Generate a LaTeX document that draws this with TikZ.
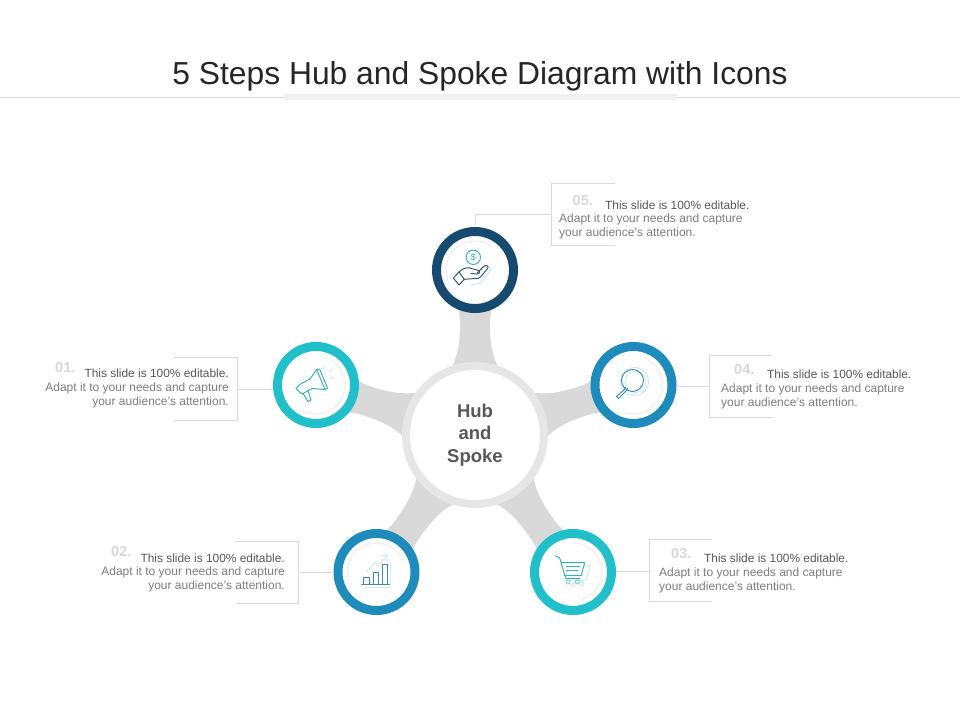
\documentclass[tikz,border=0pt]{standalone}
\usepackage{fontspec}
\setmainfont{Liberation Sans}
\usetikzlibrary{calc}
\definecolor{spokegray}{HTML}{D9D9D9}
\definecolor{hubring}{HTML}{E6E6E6}
\definecolor{boxline}{HTML}{DADADA}
\definecolor{txt}{HTML}{7F7F7F}
\definecolor{txtd}{HTML}{595959}
\definecolor{numc}{HTML}{D9D9D9}
\definecolor{cteal}{HTML}{21BFC9}
\definecolor{cblue}{HTML}{1E8BBB}
\definecolor{cnavy}{HTML}{174A6F}
\definecolor{icteal}{HTML}{3AAFBB}
\definecolor{icblue}{HTML}{3F8DAE}
\definecolor{icdark}{HTML}{34566A}
\definecolor{icl}{HTML}{CDEBF1}
\tikzset{
 x=1pt,y=-1pt,
 ringnode/.style={circle,draw=#1,line width=9pt,fill=white,minimum size=77pt,inner sep=0pt},
 spokefill/.style={fill=spokegray,draw=none},
 boxedge/.style={draw=boxline,line width=0.8pt},
 lead/.style={draw=boxline,line width=0.8pt},
 body/.style={font=\fontsize{12}{14}\selectfont,text=txt,inner sep=0pt},
 firstl/.style={font=\fontsize{11.9}{14}\selectfont,text=txtd,inner sep=0pt},
 numl/.style={font=\bfseries\fontsize{14.5}{16}\selectfont,text=numc,inner sep=0pt},
 iconl/.style={draw=#1,line width=0.95pt,line join=round,line cap=round},
 iconb/.style={draw=icl,line width=1pt,line join=round,line cap=round},
 halo/.style={draw=black!6,line width=1.2pt},
}
\begin{document}
\begin{tikzpicture}
\useasboundingbox (0,0) rectangle (960,720);
\fill[white] (0,0) rectangle (960,720);
% title
\coordinate (ruleL) at (0,97.5);
\coordinate (ruleR) at (960,97.5);
\draw[draw=black!14,line width=0.8pt] (ruleL) -- (ruleR);
\fill[black!6] (284,93.5) rectangle (677,99.5);
\node[font=\fontsize{31.8}{36}\selectfont,text=black!85,inner sep=0pt] (title) at (480,76) {5 Steps Hub and Spoke Diagram with Icons};
% nodes positions
\coordinate (hub) at (475,435);
\coordinate (p5) at (475,270);
\coordinate (p1) at (316,385);
\coordinate (p4) at (633.5,385);
\coordinate (p2) at (376.5,572);
\coordinate (p3) at (573,572);
% spokes
\foreach \ang/\len in {90/165,162.5/166.7,17.5/166.2,234.3/168.7,305.6/168.4}{
 \fill[spokefill,shift={(hub)},rotate=\ang,x=1pt,y=1pt]
  (68,-23) .. controls (82,-16.5) and (95,-14.5) .. (\len-48,-15)
  -- (\len-36,-17) -- (\len-36,17) -- (\len-48,15)
  .. controls (95,14.5) and (82,16.5) .. (68,23) -- cycle;
}
% hub
\node[circle,fill=white,draw=hubring,line width=8pt,minimum size=138pt,inner sep=0pt,
      font=\bfseries\fontsize{18.5}{22.5}\selectfont,text=txtd,align=center] (hubnode) at (hub) {\raisebox{-4pt}{\parbox{60pt}{\centering Hub\\and\\Spoke}}};
% leader lines and boxes
% 05
\coordinate (b5a) at (615,183.5); \coordinate (b5b) at (551.5,183.5); \coordinate (b5c) at (551.5,245.5); \coordinate (b5d) at (615,245.5);
\draw[boxedge] (b5a) -- (b5b) -- (b5c) -- (b5d);
\coordinate (b5m) at (551.5,214.5);
\coordinate (l5) at (475.5,214.5);
% 01
\coordinate (b1a) at (174,357.5); \coordinate (b1b) at (237.5,357.5); \coordinate (b1c) at (237.5,420); \coordinate (b1d) at (174,420);
\draw[boxedge] (b1a) -- (b1b) -- (b1c) -- (b1d);
\coordinate (b1m) at (237.5,389.5);
% 04
\coordinate (b4a) at (773,355); \coordinate (b4b) at (709.5,355); \coordinate (b4c) at (709.5,417); \coordinate (b4d) at (773,417);
\draw[boxedge] (b4a) -- (b4b) -- (b4c) -- (b4d);
\coordinate (b4m) at (709.5,386);
% 02
\coordinate (b2a) at (235,541.5); \coordinate (b2b) at (298.5,541.5); \coordinate (b2c) at (298.5,603.5); \coordinate (b2d) at (235,603.5);
\draw[boxedge] (b2a) -- (b2b) -- (b2c) -- (b2d);
\coordinate (b2m) at (298.5,572);
% 03
\coordinate (b3a) at (712,539.5); \coordinate (b3b) at (649.5,539.5); \coordinate (b3c) at (649.5,601); \coordinate (b3d) at (712,601);
\draw[boxedge] (b3a) -- (b3b) -- (b3c) -- (b3d);
\coordinate (b3m) at (649.5,571);
% rings
\node[ringnode=cnavy] (n5) at (p5) {};
\node[ringnode=cteal] (n1) at (p1) {};
\node[ringnode=cblue] (n4) at (p4) {};
\node[ringnode=cblue] (n2) at (p2) {};
\node[ringnode=cteal] (n3) at (p3) {};
\draw[lead] (b5m) -- (l5) -- (n5.north);
\draw[lead] (b1m) -- (n1.west |- b1m);
\draw[lead] (b4m) -- (n4.east |- b4m);
\draw[lead] (b2m) -- (n2.west);
\draw[lead] (b3m) -- (n3.east |- b3m);
% texts
\node[numl,anchor=west] (t5n) at (572.5,200.5) {05.};
\node[firstl,anchor=west] (t5a) at (605,205) {This slide is 100\% editable.};
\node[body,anchor=north west,align=left] (t5b) at (559,214) {Adapt it to your needs and capture\\your audience's attention.};
\node[numl,anchor=west] (t4n) at (734,369.5) {04.};
\node[firstl,anchor=west] (t4a) at (767,374) {This slide is 100\% editable.};
\node[body,anchor=north west,align=left] (t4b) at (721,384) {Adapt it to your needs and capture\\your audience's attention.};
\node[numl,anchor=west] (t3n) at (671,553.5) {03.};
\node[firstl,anchor=west] (t3a) at (704,558) {This slide is 100\% editable.};
\node[body,anchor=north west,align=left] (t3b) at (659,568) {Adapt it to your needs and capture\\your audience's attention.};
\node[numl,anchor=west] (t1n) at (55,367.5) {01.};
\node[firstl,anchor=east] (t1a) at (229,373) {This slide is 100\% editable.};
\node[body,anchor=north east,align=right] (t1b) at (229,383) {Adapt it to your needs and capture\\your audience's attention.};
\node[numl,anchor=west] (t2n) at (111,551.5) {02.};
\node[firstl,anchor=east] (t2a) at (285,558) {This slide is 100\% editable.};
\node[body,anchor=north east,align=right] (t2b) at (285,567) {Adapt it to your needs and capture\\your audience's attention.};
% halos
\foreach \nn/\aa/\bb in {n5/150/300, n1/300/480, n4/-60/110, n2/170/340, n3/-90/70}{
 \draw[halo,shift={(\nn)}] (\aa:29) arc[start angle=\aa,end angle=\bb,radius=29];
}
% icon 5: hand and coin
\begin{scope}[shift={(p5)}]
 \draw[iconb] (6,-2) -- (14,-3) .. controls (17,-3) and (16,0) .. (14,2) -- (6,13) -- (-4,15);
 \draw[iconl=icteal] (-1.7,-12.7) circle (7.2);
 \node[font=\fontsize{9}{9}\selectfont,text=icteal,inner sep=0pt] (coin) at (-1.7,-12.7) {\$};
 \draw[iconl=icdark] (-21.7,8) -- (-16,2) -- (-10.7,9.3) -- (-16,15) -- cycle;
 \draw[iconl=icdark] (-16,2) .. controls (-11,-3) and (-6,-3) .. (-2,-1) -- (2,0) .. controls (6,1) and (5,4) .. (2,4) -- (-4,3.5);
 \draw[iconl=icdark] (2,3.3) -- (8,-3) .. controls (11,-6) and (14,-4) .. (12.7,-1.7) .. controls (8,4) and (6,7) .. (3.3,8.3) -- (-10.7,9.3);
\end{scope}
% icon 1: megaphone
\begin{scope}[shift={(p1)}]
 \draw[iconl=icteal] (-20,3.5) -- (-16,-0.7) -- (-6,-6) -- (0.7,-15.5) -- (9,4.5) -- (-4,3.5) -- (-14,9) -- cycle;
 \draw[iconl=icteal] (-13,8.5) -- (-8,16.5) -- (-5,15) -- (-8,5.5);
 \draw[iconl=icteal] (0.7,-15.5) -- (3.5,-16) -- (11.5,3) -- (9,4.5);
 \draw[iconb] (7,-16) -- (8.5,-19);
 \draw[iconb] (13,-13) -- (16,-16);
 \draw[iconb] (14,-7) -- (18,-8);
\end{scope}
% icon 4: magnifier
\begin{scope}[shift={(p4)}]
 \draw[iconb] (1,-3.5) circle (14);
 \draw[iconb] (2,-3) circle (10.5);
 \draw[iconl=icblue] (-1,-4.5) circle (11);
 \draw[iconl=icblue] (-8,2.5) -- (-9.5,5) -- (-17,11.5) -- (-15,13.5) -- (-7.5,6) -- (-6,3.5);
\end{scope}
% icon 2: chart
\begin{scope}[shift={(p2)}]
 \draw[iconb] (-10,-0.7) -- (-1.7,-9.3) -- (1.7,-6) -- (10,-16);
 \draw[iconb] (5,-16) -- (10.7,-16.7) -- (10.7,-11.7);
 \draw[iconb] (-11,15) -- (14,15);
 \draw[iconb] (13.5,-6.7) -- (13.5,11.7);
 \draw[iconl=icblue] (-15,12.3) -- (13,12.3);
 \draw[iconl=icblue] (-12.7,12.3) -- (-12.7,5.7) -- (-7.3,5.7) -- (-7.3,12.3);
 \draw[iconl=icblue] (-3.3,12.3) -- (-3.3,0.7) -- (1.7,0.7) -- (1.7,12.3);
 \draw[iconl=icblue] (5.7,12.3) -- (5.7,-7.3) -- (10.7,-7.3) -- (10.7,12.3);
\end{scope}
% icon 3: cart
\begin{scope}[shift={(p3)}]
 \draw[iconb] (12,-7) -- (17,-6) -- (13,8) -- (-3,8);
 \draw[iconl=icteal] (-17.3,-16) -- (-13.3,-14) -- (-8.3,3.3) -- (-7,6.7) -- (7,6.7);
 \draw[iconl=icteal] (-11.7,-9.3) -- (11.7,-9.3) -- (8.3,3.3) -- (-8.3,3.3);
 \draw[iconl=icteal] (-6.7,-6) -- (6.7,-6);
 \draw[iconl=icteal] (-6.7,-2) -- (5,-2);
 \draw[iconl=icl!50!icteal] (-5,10) circle (2);
 \draw[iconl=icl!50!icteal] (4.3,10) circle (2);
 \draw[iconb] (0,13) circle (2);
 \draw[iconb] (9,12) circle (2);
\end{scope}
\end{tikzpicture}
\end{document}
